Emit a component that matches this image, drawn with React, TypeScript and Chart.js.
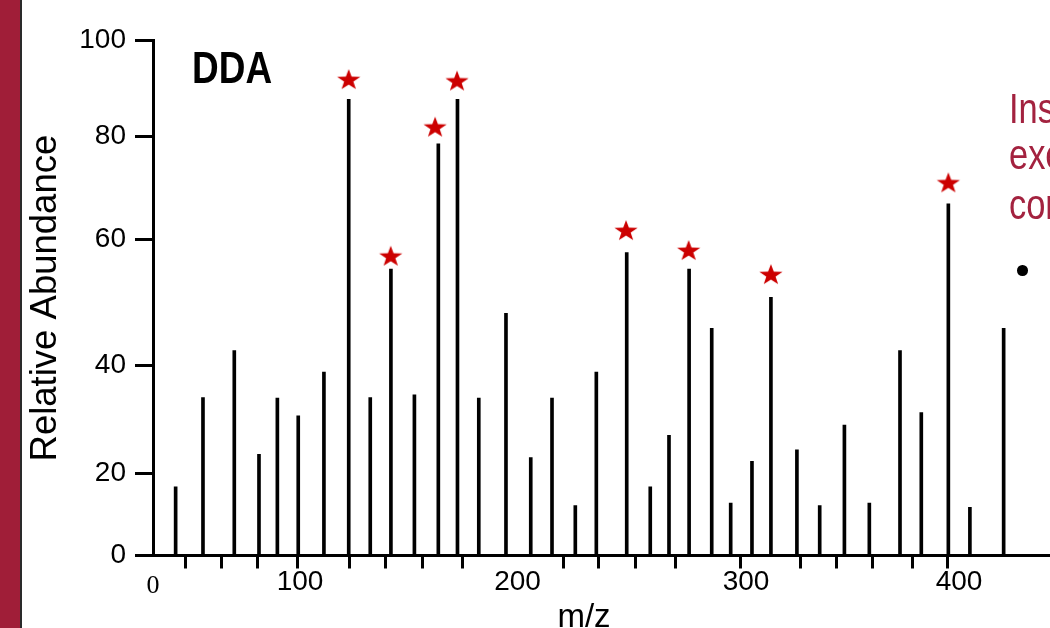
import React, { useEffect, useRef } from 'react';
import { Chart, registerables, LinearScale } from 'chart.js';

Chart.register(...registerables);

// ---- data (m/z positions and relative abundances) ----
const mzValues = [15.4, 34.0, 55.3, 72.1, 84.6, 98.8, 111.0, 122.4, 132.3, 141.8, 152.6, 163.6, 172.4, 182.2, 194.7, 205.8, 215.1, 225.3, 234.5, 247.8, 258.1, 266.3, 275.1, 285.0, 293.3, 302.8, 311.7, 323.9, 334.6, 346.2, 357.9, 372.3, 382.3, 395.0, 405.1, 420.9];
const abundance = [16.8, 34.1, 42.4, 23.6, 34.0, 30.7, 38.8, 87.8, 34.1, 55.3, 34.6, 78.6, 87.8, 34.0, 48.3, 23.0, 34.0, 12.2, 38.8, 57.9, 16.8, 27.1, 55.3, 45.9, 12.8, 22.3, 50.8, 24.4, 12.2, 29.0, 12.8, 42.4, 31.3, 66.9, 11.8, 45.9];
const starMz = [122.4, 141.7, 162.1, 172.2, 247.5, 274.9, 311.7, 395.0];
const starY = [92.0, 57.4, 82.1, 91.7, 61.8, 58.3, 54.5, 71.1];
const xLabelTicks = [0, 100, 200, 300, 400];
const xMinorTicks = [22.2, 46.7, 71.2, 98.2, 122.9, 139.4, 156.2, 174.6, 220.0, 235.5, 251.6, 269.1, 297.4, 325.4, 342.3, 359.3, 378.1, 394.7];
const yTickValues = [0, 20, 40, 60, 80, 100];

// ---- the figure's axes are not linear: piecewise scale knots [value, fraction of axis] ----
const X_KNOTS = [[0, 0], [100, 0.15523], [200, 0.3849], [300, 0.62619], [400, 0.85111], [466, 1]];
const Y_KNOTS = [[0, 0], [20, 0.1589], [40, 0.3687], [60, 0.6142], [80, 0.8135], [100, 1]];
const SCALE_KNOTS: Record<string, number[][]> = { x: X_KNOTS, y: Y_KNOTS };

function interp(v: number, k: number[][], a: number, b: number) {
  let i = 0;
  while (i < k.length - 2 && v > k[i + 1][a]) i++;
  const p = k[i], q = k[i + 1];
  return p[b] + ((v - p[a]) * (q[b] - p[b])) / (q[a] - p[a]);
}

class PiecewiseScale extends LinearScale {
  static id = 'piecewise';
  static defaults = LinearScale.defaults;
  getPixelForValue(value: number) {
    const k = SCALE_KNOTS[(this as any).id];
    return this.getPixelForDecimal(interp(value, k, 0, 1));
  }
  getValueForPixel(pixel: number) {
    const k = SCALE_KNOTS[(this as any).id];
    return interp(this.getDecimalForPixel(pixel), k, 1, 0);
  }
}
Chart.register(PiecewiseScale as any);

function makeStar() {
  const c = document.createElement('canvas');
  c.width = 26;
  c.height = 24;
  const ctx = c.getContext('2d')!;
  const R = 12.2, r = R * 0.4, sy = 0.9;
  const cx = 13, cy = 12 + 0.0955 * R * sy;
  ctx.beginPath();
  for (let i = 0; i < 10; i++) {
    const rad = i % 2 === 0 ? R : r;
    const ang = -Math.PI / 2 + (i * Math.PI) / 5;
    const px = cx + rad * Math.cos(ang);
    const py = cy + rad * Math.sin(ang) * sy;
    if (i === 0) ctx.moveTo(px, py);
    else ctx.lineTo(px, py);
  }
  ctx.closePath();
  ctx.fillStyle = '#cc0000';
  ctx.fill();
  return c;
}

const SANS = "'Liberation Sans', Arial, sans-serif";

export default function App() {
  const ref = useRef<HTMLCanvasElement | null>(null);

  useEffect(() => {
    if (!ref.current) return;
    const star = makeStar();
    const chart = new Chart(ref.current, {
      type: 'bar',
      data: {
        datasets: [
          {
            type: 'scatter',
            data: starMz.map((x, i) => ({ x, y: starY[i] })),
            pointStyle: star as any,
            pointRadius: 11,
            order: 1,
          } as any,
          {
            type: 'bar',
            data: mzValues.map((x, i) => ({ x, y: abundance[i] })),
            backgroundColor: '#000',
            borderWidth: 0,
            barThickness: 3,
            grouped: false,
            order: 2,
          } as any,
        ],
      },
      options: {
        animation: false,
        responsive: false,
        layout: { autoPadding: false, padding: { left: 0, right: 0, top: 40.7, bottom: 0 } },
        plugins: { legend: { display: false }, tooltip: { enabled: false } },
        scales: {
          x: {
            type: 'piecewise' as any,
            min: 0,
            max: 466,
            offset: false,
            bounds: 'data',
            afterBuildTicks: (s: any) => {
              s.ticks = [...xLabelTicks, ...xMinorTicks].sort((a, b) => a - b).map((v) => ({ value: v }));
            },
            afterFit: (s: any) => {
              s.height = 72.5;
              s.paddingLeft = 0;
              s.paddingRight = 0;
            },
            grid: {
              display: true,
              offset: false,
              drawOnChartArea: false,
              drawTicks: true,
              tickLength: 13,
              tickWidth: 3,
              tickColor: (c: any) => (c.tick && xLabelTicks.includes(c.tick.value) ? 'rgba(0,0,0,0)' : '#000'),
            },
            border: { display: true, color: '#000', width: 3 },
            ticks: {
              autoSkip: false,
              maxRotation: 0,
              minRotation: 0,
              padding: 0,
              color: '#000',
              font: (c: any) =>
                c.tick && c.tick.value === 0
                  ? { family: "'Liberation Serif', 'Times New Roman', serif", size: 26, lineHeight: 1.36 }
                  : { family: SANS, size: 28, lineHeight: 1 },
              callback: (v: any) => (xLabelTicks.includes(Number(v)) ? String(v) : ''),
            },
          } as any,
          y: {
            type: 'piecewise' as any,
            min: 0,
            max: 100,
            bounds: 'data',
            afterBuildTicks: (s: any) => {
              s.ticks = yTickValues.map((v) => ({ value: v }));
            },
            afterFit: (s: any) => {
              s.width = 153;
              s.paddingTop = 0;
              s.paddingBottom = 0;
            },
            grid: {
              display: true,
              drawOnChartArea: false,
              drawTicks: true,
              tickLength: 18,
              tickWidth: 3,
              tickColor: '#000',
            },
            border: { display: true, color: '#000', width: 3 },
            ticks: {
              autoSkip: false,
              padding: 9,
              color: '#000',
              font: { family: SANS, size: 28, lineHeight: 1 },
            },
            title: {
              display: true,
              text: 'Relative Abundance',
              color: '#000',
              font: { family: SANS, size: 36.5, lineHeight: 1 },
              padding: { top: 27.75, bottom: 0 },
            },
          } as any,
        },
      },
    });
    return () => chart.destroy();
  }, []);

  const redText = {
    position: 'absolute' as const,
    left: 1009,
    fontFamily: SANS,
    fontSize: 42,
    lineHeight: '42px',
    color: '#a3223f',
    whiteSpace: 'nowrap' as const,
    transform: 'scaleX(0.82)',
    transformOrigin: '0 0',
  };

  return (
    <div style={{ position: 'fixed', left: 0, top: 0, width: 1050, height: 628, overflow: 'hidden', background: '#fff' }}>
      <canvas ref={ref} width={1100} height={628} style={{ position: 'absolute', left: 0, top: 0, width: 1100, height: 628 }} />
      <div style={{ position: 'absolute', left: 0, top: 0, width: 19.5, height: 628, background: '#a01e38' }} />
      <div style={{ position: 'absolute', left: 19.5, top: 0, width: 2, height: 628, background: '#2a2a2a' }} />
      <div style={{ position: 'absolute', left: 192, top: 46, fontFamily: SANS, fontWeight: 700, fontSize: 44, lineHeight: '44px', color: '#000', transform: 'scaleX(0.84)', transformOrigin: '0 0', whiteSpace: 'nowrap' }}>DDA</div>
      <div style={{ position: 'absolute', left: 484, top: 599, width: 200, textAlign: 'center', fontFamily: SANS, fontSize: 33, lineHeight: '33px', color: '#000' }}>m/z</div>
      <div style={{ ...redText, top: 87.7 }}>Ins</div>
      <div style={{ ...redText, top: 134.4 }}>exe</div>
      <div style={{ ...redText, top: 183.7 }}>cor</div>
      <div style={{ position: 'absolute', left: 1017, top: 265, width: 10.5, height: 10.5, borderRadius: '50%', background: '#000' }} />
    </div>
  );
}
